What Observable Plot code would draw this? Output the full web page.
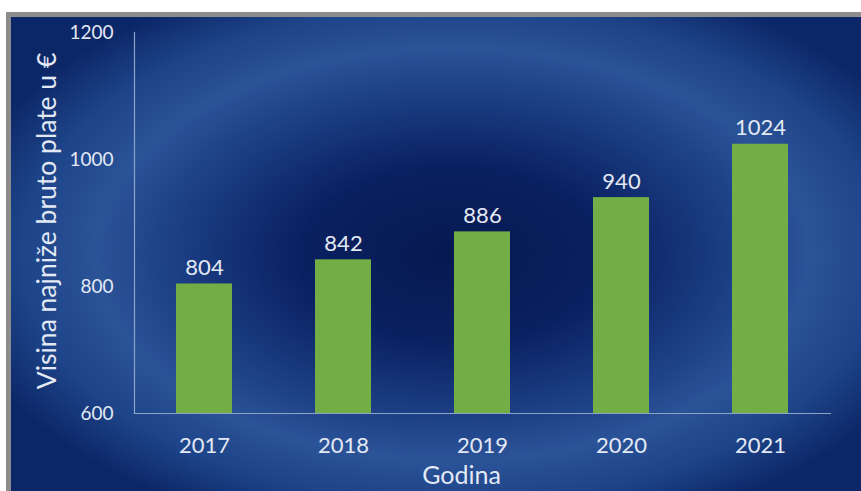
<!DOCTYPE html>
<html>
<head>
<meta charset="utf-8">
<script src="https://cdn.jsdelivr.net/npm/d3@7"></script>
<script src="https://cdn.jsdelivr.net/npm/@observablehq/plot@0.6"></script>
<style>
  html, body { margin: 0; padding: 0; background: #ffffff; }
  #wrap { position: relative; width: 861px; height: 491px; overflow: hidden; }
  #bg {
    position: absolute; left: 6px; top: 12px; right: 0; bottom: 0;
    border-top: 5px solid #8c8c8c; border-left: 5px solid #8c8c8c;
    background:
      radial-gradient(ellipse 60% 62% at 52% 50%, #061850 0%, #0a2161 30%, #1c3f85 55%, #2b5398 70%, #1d4388 85%, #0c2767 100%);
  }
  #chart { position: absolute; left: 0; top: 0; }
  svg { font-family: Lato, "Open Sans", sans-serif; }
</style>
</head>
<body>
<div id="wrap">
  <div id="bg"></div>
  <div id="chart"></div>
</div>
<script>
const years = ["2017", "2018", "2019", "2020", "2021"];
const wages = [804, 842, 886, 940, 1024];
const yTicks = [600, 800, 1000, 1200];
const yTitle = "Visina najniže bruto plate u €";
const xTitle = "Godina";

const data = years.map((y, i) => ({year: y, value: wages[i]}));
const textColor = "#e3e9f4";
const axisColor = "#8ea3c9";

const chart = Plot.plot({
  width: 861,
  height: 491,
  marginLeft: 134,
  marginRight: 31,
  marginTop: 32,
  marginBottom: 78,
  style: {background: "transparent", color: textColor, fontFamily: "Lato, 'Open Sans', sans-serif", overflow: "visible"},
  x: {domain: years, paddingInner: 0.6, paddingOuter: 0.3, label: null},
  y: {domain: [600, 1200], label: null},
  marks: [
    Plot.barY(data, {x: "year", y1: 600, y2: "value", fill: "#72ad46"}),
    Plot.frame({anchor: "left", stroke: axisColor, strokeWidth: 1.2}),
    Plot.frame({anchor: "bottom", stroke: axisColor, strokeWidth: 1.2}),
    Plot.axisY({ticks: yTicks, tickFormat: d => String(d), tickSize: 0, tickPadding: 21, fontSize: 19, fill: textColor, label: null}),
    Plot.axisX({tickSize: 0, tickPadding: 24, fontSize: 22, fill: textColor, label: null}),
    Plot.text(data, {x: "year", y: "value", text: d => String(d.value), lineAnchor: "bottom", dy: -9, fontSize: 22, fill: textColor}),
    Plot.text([yTitle], {frameAnchor: "left", dx: -79, dy: -2, rotate: -90, textAnchor: "middle", lineAnchor: "bottom", fontSize: 26.5, fill: textColor}),
    Plot.text([xTitle], {frameAnchor: "bottom", dx: -21, dy: 70, textAnchor: "middle", lineAnchor: "bottom", fontSize: 25, fill: textColor})
  ]
});
document.getElementById("chart").appendChild(chart);
</script>
</body>
</html>
